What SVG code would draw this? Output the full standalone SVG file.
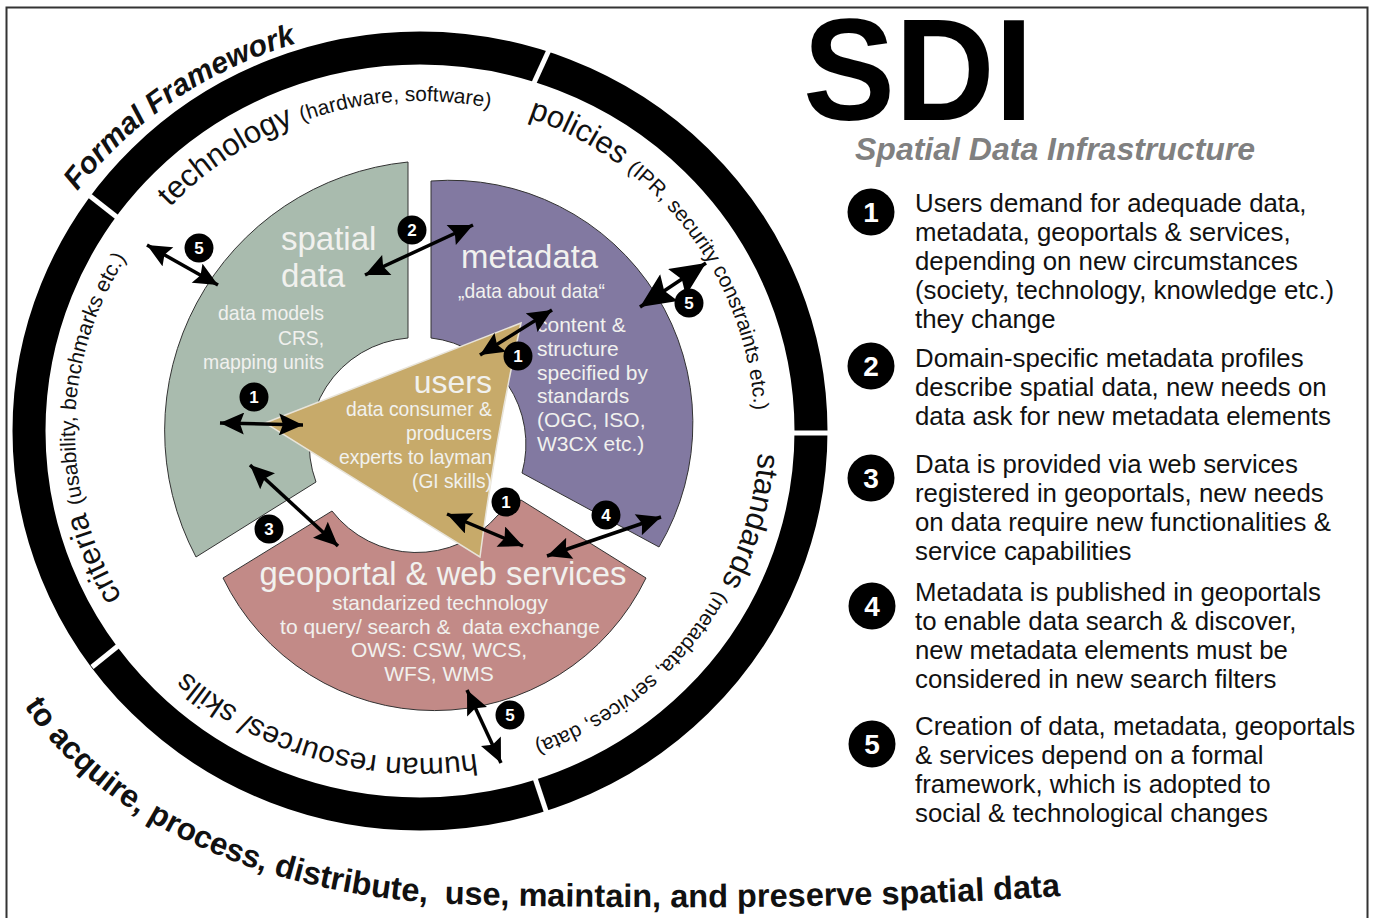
<svg xmlns="http://www.w3.org/2000/svg" width="1373" height="918" viewBox="0 0 1373 918">
<style>
text{font-family:"Liberation Sans",Arial,sans-serif;white-space:pre}
.w{fill:#f1f1ee}
.lab{font-size:21px;fill:#f1f1ee}
.it{font-size:25.8px;fill:#111}
.num{font-weight:bold;fill:#fff;text-anchor:middle}
.n1{font-size:28px}
.n2{font-size:17px}
.conn line{stroke:#000;stroke-width:3.500;marker-start:url(#ah);marker-end:url(#ah)}
.pet{stroke:#333;stroke-width:1}
.gap{stroke:#fff;stroke-width:5}
.r{text-anchor:end}
.m{text-anchor:middle}
</style>
<defs>
<marker id="ah" viewBox="0 0 24 22" refX="24" refY="11" markerWidth="25" markerHeight="22" markerUnits="userSpaceOnUse" orient="auto-start-reverse"><path d="M0 0L24 11L0 22L4 11Z" fill="#000"/></marker>
<marker id="ah2" viewBox="0 0 24 22" refX="24" refY="11" markerWidth="36" markerHeight="32" markerUnits="userSpaceOnUse" orient="auto-start-reverse"><path d="M0 0L24 11L0 22L4 11Z" fill="#000"/></marker>
<path id="pFF" d="M-5 431A425 405 0 0 1 420 26A425 405 0 0 1 845 431"/>
<path id="pTech" d="M80 431A340 330 0 0 1 420 101A340 330 0 0 1 760 431"/>
<path id="pPol" d="M420 100A335 331 0 0 1 755 431"/>
<path id="pCri" d="M420 761A345 330 0 0 1 75 431A345 330 0 0 1 420 101"/>
<path id="pStd" d="M420 100A339 331 0 0 1 759 431A339 331 0 0 1 420 762A339 331 0 0 1 81 431"/>
<path id="pHum" d="M765 431A345 327 0 0 1 420 758A345 327 0 0 1 75 431"/>
<path id="pBot" d="M24 706C100 818 250 893 450 904C650 910 900 908 1075 895"/>
</defs>
<rect x="6.500" y="7.500" width="1361" height="915" fill="#fff" stroke="#333" stroke-width="2"/>
<g id="ring">
<ellipse cx="420" cy="431" rx="391" ry="383" fill="none" stroke="#000" stroke-width="33"/>
<line class="gap" x1="549" y1="50" x2="533" y2="85"/>
<line class="gap" x1="90" y1="196" x2="118" y2="218"/>
<line class="gap" x1="118" y1="646" x2="92" y2="667"/>
<line class="gap" x1="535" y1="778" x2="547" y2="814"/>
<line class="gap" x1="792" y1="433" x2="830" y2="433"/>
</g>
<g id="ring-labels">
<text font-size="30" font-weight="bold" font-style="italic" fill="#111"><textPath href="#pFF" startOffset="258">Formal Framework</textPath></text>
<text font-size="31" fill="#111"><textPath href="#pTech" startOffset="247">technology <tspan font-size="20.800">(hardware, software)</tspan></textPath></text>
<text font-size="31" fill="#111"><textPath href="#pPol" startOffset="110">policies <tspan font-size="21">(IPR, security constraints etc.)</tspan></textPath></text>
<text font-size="31" fill="#111"><textPath href="#pStd" startOffset="548">standards <tspan font-size="21">(metadata, services, data)</tspan></textPath></text>
<text font-size="29.800" fill="#111"><textPath href="#pHum" startOffset="471">human resources/ skills</textPath></text>
<text font-size="31" fill="#111"><textPath href="#pCri" startOffset="355">criteria <tspan font-size="21.200">(usability, benchmarks etc.)</tspan></textPath></text>
<text font-size="32.500" font-weight="bold" fill="#111"><textPath href="#pBot"><tspan font-size="31.500">to acquire, process, </tspan>distribute, <tspan dx="8">use, maintain, and preserve spatial data</tspan></textPath></text>
</g>
<g id="spatial-data">
<path class="pet" fill="#a9bbae" d="M408 162V338A107 107 0 0 0 316 482L196 557A270 270 0 0 1 408 162Z"/>
<text class="w" font-size="33" x="281" y="250">spatial</text>
<text class="w" font-size="33" x="281" y="287">data</text>
<text class="lab r" x="324" y="320" textLength="106" lengthAdjust="spacingAndGlyphs">data models</text>
<text class="lab r" x="324" y="345" textLength="46" lengthAdjust="spacingAndGlyphs">CRS,</text>
<text class="lab r" x="324" y="369" textLength="121" lengthAdjust="spacingAndGlyphs">mapping units</text>
</g>
<g id="metadata">
<path class="pet" fill="#8279a1" d="M431 181V338A107 107 0 0 1 522 473L659 547A243 243 0 0 0 431 181Z"/>
<text class="w" font-size="32.900" x="461" y="268">metadata</text>
<text class="lab" x="458" y="298" textLength="147" lengthAdjust="spacingAndGlyphs">„data about data“</text>
<text class="lab" x="537" y="332">content &amp;</text>
<text class="lab" x="537" y="356">structure</text>
<text class="lab" x="537" y="380">specified by</text>
<text class="lab" x="537" y="403">standards</text>
<text class="lab" x="537" y="427">(OGC, ISO,</text>
<text class="lab" x="537" y="451">W3CX etc.)</text>
</g>
<g id="geoportal">
<path class="pet" fill="#c28a87" d="M223 578L332 511A107 107 0 0 0 498 515L521 500L646 578A235 235 0 0 1 223 578Z"/>
<text class="w m" font-size="33" x="443" y="585" textLength="367" lengthAdjust="spacingAndGlyphs">geoportal &amp; web services</text>
<text class="lab m" x="440" y="610">standarized technology</text>
<text class="lab m" x="440" y="634">to query/ search &amp;  data exchange</text>
<text class="lab m" x="439" y="657">OWS: CSW, WCS,</text>
<text class="lab m" x="439" y="681">WFS, WMS</text>
</g>
<g id="users">
<path fill="#c7aa6a" stroke="#e8e4da" stroke-width="1.500" d="M265 423L521 323Q495 440 480 557Z"/>
<text class="w r" font-size="32" x="492" y="393">users</text>
<text class="lab r" x="492" y="416" textLength="146" lengthAdjust="spacingAndGlyphs">data consumer &amp;</text>
<text class="lab r" x="492" y="440" textLength="86" lengthAdjust="spacingAndGlyphs">producers</text>
<text class="lab r" x="492" y="464" textLength="153" lengthAdjust="spacingAndGlyphs">experts to layman</text>
<text class="lab r" x="492" y="488" textLength="80" lengthAdjust="spacingAndGlyphs">(GI skills)</text>
</g>
<g id="connectors" class="conn">
<line x1="147" y1="245" x2="218" y2="285"/>
<line x1="365" y1="275" x2="473" y2="225"/>
<line x1="640" y1="307" x2="706" y2="263" style="marker-start:url(#ah2);marker-end:url(#ah2)"/>
<line x1="480" y1="355" x2="552" y2="310"/>
<line x1="220" y1="423" x2="303" y2="425"/>
<line x1="250" y1="465" x2="338" y2="546"/>
<line x1="447" y1="514" x2="523" y2="546"/>
<line x1="547" y1="556" x2="661" y2="517"/>
<line x1="467" y1="690" x2="501" y2="763"/>
</g>
<g id="badges">
<circle cx="199" cy="248" r="14.500"/><text class="num n2" x="199" y="254">5</text>
<circle cx="412" cy="230" r="14.500"/><text class="num n2" x="412" y="236">2</text>
<circle cx="689" cy="303" r="14.500"/><text class="num n2" x="689" y="309">5</text>
<circle cx="518" cy="356" r="14.500"/><text class="num n2" x="518" y="362">1</text>
<circle cx="254" cy="397" r="14.500"/><text class="num n2" x="254" y="403">1</text>
<circle cx="506" cy="502" r="14.500"/><text class="num n2" x="506" y="508">1</text>
<circle cx="269" cy="529" r="14.500"/><text class="num n2" x="269" y="535">3</text>
<circle cx="606" cy="515" r="14.500"/><text class="num n2" x="606" y="521">4</text>
<circle cx="510" cy="715" r="14.500"/><text class="num n2" x="510" y="721">5</text>
</g>
<g id="title">
<text transform="translate(803 120) scale(1 1.05)" font-size="138" font-weight="bold" fill="#000">SDI</text>
<text x="855" y="160" font-size="32" font-weight="bold" font-style="italic" fill="#808080">Spatial Data Infrastructure</text>
</g>
<g id="item-1">
<circle cx="871" cy="212" r="23.500"/><text class="num n1" x="871" y="222">1</text>
<text class="it" x="915" y="212">Users demand for adequade data,</text>
<text class="it" x="915" y="241">metadata, geoportals &amp; services,</text>
<text class="it" x="915" y="270">depending on new circumstances</text>
<text class="it" x="915" y="299">(society, technology, knowledge etc.)</text>
<text class="it" x="915" y="328">they change</text>
</g>
<g id="item-2">
<circle cx="871" cy="366" r="23.500"/><text class="num n1" x="871" y="376">2</text>
<text class="it" x="915" y="367">Domain-specific metadata profiles</text>
<text class="it" x="915" y="396">describe spatial data, new needs on</text>
<text class="it" x="915" y="425">data ask for new metadata elements</text>
</g>
<g id="item-3">
<circle cx="871" cy="478" r="23.500"/><text class="num n1" x="871" y="488">3</text>
<text class="it" x="915" y="473">Data is provided via web services</text>
<text class="it" x="915" y="502">registered in geoportals, new needs</text>
<text class="it" x="915" y="531">on data require new functionalities &amp;</text>
<text class="it" x="915" y="560">service capabilities</text>
</g>
<g id="item-4">
<circle cx="872" cy="606" r="23.500"/><text class="num n1" x="872" y="616">4</text>
<text class="it" x="915" y="601">Metadata is published in geoportals</text>
<text class="it" x="915" y="630">to enable data search &amp; discover,</text>
<text class="it" x="915" y="659">new metadata elements must be</text>
<text class="it" x="915" y="688">considered in new search filters</text>
</g>
<g id="item-5">
<circle cx="872" cy="744" r="23.500"/><text class="num n1" x="872" y="754">5</text>
<text class="it" x="915" y="735">Creation of data, metadata, geoportals</text>
<text class="it" x="915" y="764">&amp; services depend on a formal</text>
<text class="it" x="915" y="793">framework, which is adopted to</text>
<text class="it" x="915" y="822">social &amp; technological changes</text>
</g>
</svg>
